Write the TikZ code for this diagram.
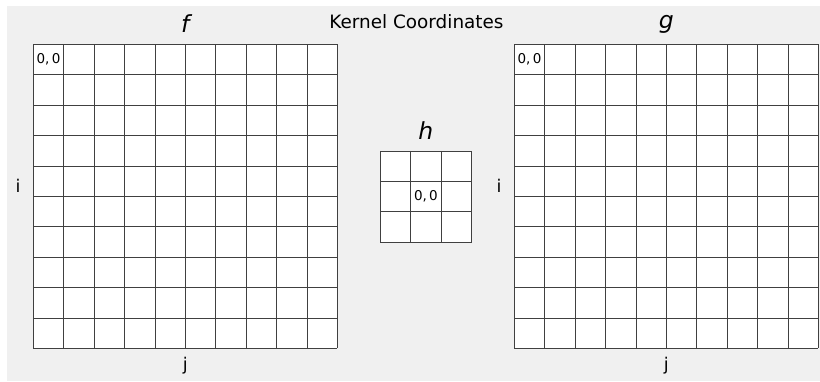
\documentclass[tikz,border=0pt]{standalone}
\usepackage{fontspec}
\setmainfont{DejaVu Sans}
\newfontfamily\obl{DejaVu Sans Oblique}
\begin{document}
\begin{tikzpicture}[x=1pt,y=-1pt,
  gridline/.style={draw=black!75,line width=0.6pt},
  ttl/.style={font=\fontsize{18.4}{19}\selectfont,inner sep=0pt},
  mlab/.style={font=\fontsize{23.5}{25}\obl,inner sep=0pt},
  axl/.style={font=\fontsize{17.5}{18}\selectfont,inner sep=0pt},
  cell/.style={font=\fontsize{13.5}{14}\selectfont,inner sep=0pt}]
\useasboundingbox (0,0) rectangle (820,382);
\fill[white] (0,0) rectangle (820,382);
\fill[black!6] (7,6) rectangle (820,381);
% f grid
\fill[white] (33.3,44.3) rectangle (337.3,348.3);
\foreach \k in {0,...,10}{
  \draw[gridline] ({33.3+30.4*\k},44.3) -- ({33.3+30.4*\k},348.3);
  \draw[gridline] (33.3,{44.3+30.4*\k}) -- (337.3,{44.3+30.4*\k});
}
% g grid
\fill[white] (514.3,44.3) rectangle (818.3,348.3);
\foreach \k in {0,...,10}{
  \draw[gridline] ({514.3+30.4*\k},44.3) -- ({514.3+30.4*\k},348.3);
  \draw[gridline] (514.3,{44.3+30.4*\k}) -- (818.3,{44.3+30.4*\k});
}
% h grid
\fill[white] (380.3,151) rectangle (471.5,242.2);
\foreach \k in {0,...,3}{
  \draw[gridline] ({380.3+30.4*\k},151) -- ({380.3+30.4*\k},242.2);
  \draw[gridline] (380.3,{151+30.4*\k}) -- (471.5,{151+30.4*\k});
}
% labels
\node[ttl] (title) at (416.5,22) {Kernel Coordinates};
\node[mlab] (flab) at (185.3,24) {f};
\node[mlab] (glab) at (666.3,24) {g};
\node[mlab] (hlab) at (425.9,131) {h};
\node[axl] (fi) at (18,186) {i};
\node[axl] (fj) at (185.3,366) {j};
\node[axl] (gi) at (499,186) {i};
\node[axl] (gj) at (666.3,366) {j};
\node[cell] (f00) at (48.5,59.5) {0,\,0};
\node[cell] (g00) at (529.5,59.5) {0,\,0};
\node[cell] (h00) at (425.9,196.6) {0,\,0};
\end{tikzpicture}
\end{document}
